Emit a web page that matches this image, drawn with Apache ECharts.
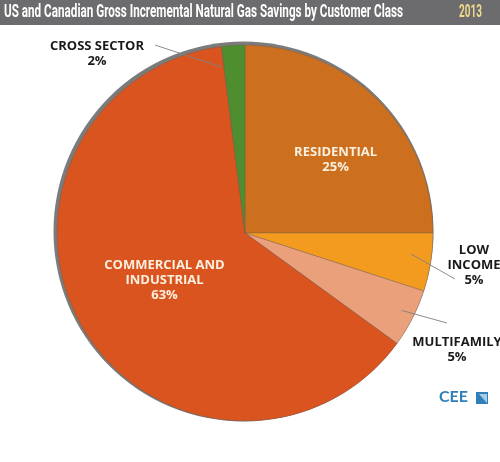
<!DOCTYPE html>
<html>
<head>
<meta charset="utf-8">
<script src="https://cdn.jsdelivr.net/npm/echarts@6/dist/echarts.min.js"></script>
<style>
html,body{margin:0;padding:0;background:#fff;}
#main{width:500px;height:462px;}
</style>
</head>
<body>
<div id="main"></div>
<script>
// Data
var categories = ['RESIDENTIAL', 'LOW\nINCOME', 'MULTIFAMILY', 'COMMERCIAL AND\nINDUSTRIAL', 'CROSS SECTOR'];
var values = [25, 5, 5, 63, 2];
var colors = ['#CC6F1F', '#F39B1F', '#EBA07C', '#D9541F', '#4F8E2F'];
var titleText = 'US and Canadian Gross Incremental Natural Gas Savings by Customer Class';
var yearText = '2013';

var titleFont = 'bold 18px Roboto';
function measure(txt, font) {
  var ctx = document.createElement('canvas').getContext('2d');
  ctx.font = font;
  return ctx.measureText(txt).width;
}
var titleScale = 399 / measure(titleText, titleFont);
var yearScale = 23 / measure(yearText, titleFont);

var CX = 245, CY = 233, R = 188;
var total = values.reduce(function (a, b) { return a + b; }, 0);
function midAngle(i, da) {
  var before = 0;
  for (var k = 0; k < i; k++) before += values[k];
  var deg = 90 - (before + values[i] / 2) / total * 360 + (da || 0);
  return deg * Math.PI / 180;
}
function insidePoint(i, frac, da) {
  var a = midAngle(i, da);
  return [CX + Math.cos(a) * R * frac, CY - Math.sin(a) * R * frac];
}

var chart = echarts.init(document.getElementById('main'), null, {renderer: 'canvas'});

var insideIdx = {0: true, 3: true};
// label centres and leader-line end points (layout only)
var outsidePos = {
  1: {x: 474, y: 265, end: [455, 279], frac: 0.89, da: 1.8},
  2: {x: 457, y: 350, end: [447, 323], frac: 0.93, da: 0.7},
  4: {x: 97, y: 54, end: [155, 45], frac: 0.89, da: 4.3}
};
var insideShift = {
  0: {dx: 22, dy: -5},
  3: {dx: 3, dy: -2}
};

var pieData = categories.map(function (c, i) {
  var inside = !!insideIdx[i];
  return {
    name: c,
    value: values[i],
    itemStyle: {color: colors[i]},
    label: {
      position: inside ? 'inside' : 'outside',
      color: inside ? '#FBF0DE' : '#1a1a1a'
    },
    labelLine: {show: false}
  };
});

var leaderLines = Object.keys(outsidePos).map(function (k) {
  var i = +k, o = outsidePos[k];
  var s = insidePoint(i, o.frac, o.da);
  return {
    type: 'polyline', z: 100, silent: true,
    shape: {points: [s, o.end]},
    style: {stroke: '#808080', lineWidth: 0.9, fill: null}
  };
});

var option = {
  animation: false,
  graphic: [
    {type: 'rect', z: -10, shape: {x: 0, y: 0, width: 500, height: 25}, style: {fill: '#6C6C6E'}},
    {type: 'text', x: 4, y: 3, scaleX: titleScale, style: {text: titleText, fill: '#ffffff', font: titleFont}},
    {type: 'text', x: 459, y: 3, scaleX: yearScale, style: {text: yearText, fill: '#F1D98B', font: titleFont}},
    {type: 'text', x: 439, y: 389, style: {text: 'CEE', fill: '#2F7FB8', font: 'bold 16px Lato'}},
    {type: 'group', x: 476, y: 392, children: [
      {type: 'rect', shape: {x: 0, y: 0, width: 12, height: 12}, style: {fill: '#2F7FB8'}},
      {type: 'polygon', shape: {points: [[3, 2], [11, 2], [11, 11]]}, style: {fill: '#A9CDE6'}}
    ]}
  ].concat(leaderLines),
  series: [
    {
      type: 'pie',
      silent: true,
      z: 1,
      center: [CX - 1.5, CY - 1.5],
      radius: R + 2,
      label: {show: false},
      labelLine: {show: false},
      itemStyle: {color: '#7B7B7B'},
      data: [{value: 1, name: 'shadow'}]
    },
    {
      type: 'pie',
      z: 2,
      center: [CX, CY],
      radius: R,
      startAngle: 90,
      clockwise: true,
      avoidLabelOverlap: false,
      itemStyle: {borderColor: 'rgba(110,90,80,0.6)', borderWidth: 0.6},
      label: {
        show: true,
        formatter: '{b}\n{c}%',
        fontFamily: 'Open Sans',
        fontWeight: 'bold',
        fontSize: 13,
        lineHeight: 15,
        align: 'center'
      },
      labelLine: {show: false},
      labelLayout: function (params) {
        var i = params.dataIndex;
        var o = outsidePos[i];
        if (o) {
          return {x: o.x, y: o.y, align: 'center', verticalAlign: 'middle'};
        }
        if (insideShift[i]) {
          return {dx: insideShift[i].dx, dy: insideShift[i].dy};
        }
        return {};
      },
      data: pieData
    }
  ]
};
chart.setOption(option);
</script>
</body>
</html>
